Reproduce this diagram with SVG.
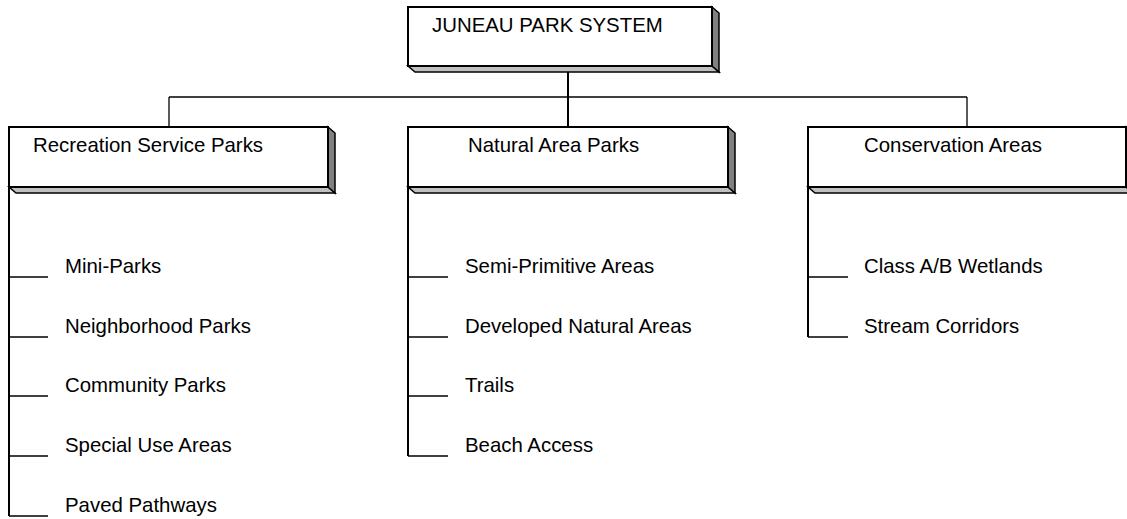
<svg xmlns="http://www.w3.org/2000/svg" width="1127" height="519" viewBox="0 0 1127 519">
<style>
.box{fill:#fff;stroke:#000;stroke-width:2}
.bot{fill:#c0c0c0;stroke:#000;stroke-width:1.5;stroke-linejoin:miter}
.side{fill:#808080;stroke:#000;stroke-width:1.5}
.t{font-family:"Liberation Sans",Arial,sans-serif;font-size:20.4px;fill:#000}
.c{stroke:#000;stroke-width:2;fill:none}
.k{stroke:#000;stroke-width:1.3;fill:none}
</style>
<rect width="1127" height="519" fill="#fff"/>
<g id="connectors">
<line class="c" x1="568" y1="66" x2="568" y2="127"/>
<line class="k" x1="169" y1="97" x2="967" y2="97"/>
<line class="k" x1="169" y1="97" x2="169" y2="127"/>
<line class="k" x1="967" y1="97" x2="967" y2="127"/>
<line class="c" x1="9" y1="187" x2="9" y2="516"/>
<line class="k" x1="9" y1="277" x2="48" y2="277"/>
<line class="k" x1="9" y1="337" x2="48" y2="337"/>
<line class="k" x1="9" y1="396" x2="48" y2="396"/>
<line class="k" x1="9" y1="456" x2="48" y2="456"/>
<line class="k" x1="9" y1="516" x2="48" y2="516"/>
<line class="c" x1="408" y1="187" x2="408" y2="456"/>
<line class="k" x1="408" y1="277" x2="448" y2="277"/>
<line class="k" x1="408" y1="337" x2="448" y2="337"/>
<line class="k" x1="408" y1="396" x2="448" y2="396"/>
<line class="k" x1="408" y1="456" x2="448" y2="456"/>
<line class="c" x1="808" y1="187" x2="808" y2="337"/>
<line class="k" x1="808" y1="277" x2="848" y2="277"/>
<line class="k" x1="808" y1="337" x2="848" y2="337"/>
</g>
<g id="juneau">
<polygon class="bot" points="408,66 712,66 719,72 415,72"/>
<polygon class="side" points="712,7 719,13 719,72 712,66"/>
<rect class="box" x="408" y="7" width="304" height="59"/>
<text class="t" x="432" y="32">JUNEAU PARK SYSTEM</text>
</g>
<g id="recreation">
<polygon class="bot" points="9,187 328,187 335,193 16,193"/>
<polygon class="side" points="328,127 335,133 335,193 328,187"/>
<rect class="box" x="9" y="127" width="319" height="60"/>
<text class="t" x="33" y="152">Recreation Service Parks</text>
</g>
<g id="natural">
<polygon class="bot" points="408,187 728,187 735,193 415,193"/>
<polygon class="side" points="728,127 735,133 735,193 728,187"/>
<rect class="box" x="408" y="127" width="320" height="60"/>
<text class="t" x="468" y="152">Natural Area Parks</text>
</g>
<g id="conservation">
<polygon class="bot" points="808,187 1126,187 1133,193 815,193"/>
<polygon class="side" points="1126,127 1133,133 1133,193 1126,187"/>
<rect class="box" x="808" y="127" width="318" height="60"/>
<text class="t" x="864" y="152">Conservation Areas</text>
</g>
<g id="rec-items">
<text class="t" x="65" y="273">Mini-Parks</text>
<text class="t" x="65" y="333">Neighborhood Parks</text>
<text class="t" x="65" y="392">Community Parks</text>
<text class="t" x="65" y="452">Special Use Areas</text>
<text class="t" x="65" y="512">Paved Pathways</text>
</g>
<g id="nat-items">
<text class="t" x="465" y="273">Semi-Primitive Areas</text>
<text class="t" x="465" y="333">Developed Natural Areas</text>
<text class="t" x="465" y="392">Trails</text>
<text class="t" x="465" y="452">Beach Access</text>
</g>
<g id="con-items">
<text class="t" x="864" y="273">Class A/B Wetlands</text>
<text class="t" x="864" y="333">Stream Corridors</text>
</g>
</svg>
